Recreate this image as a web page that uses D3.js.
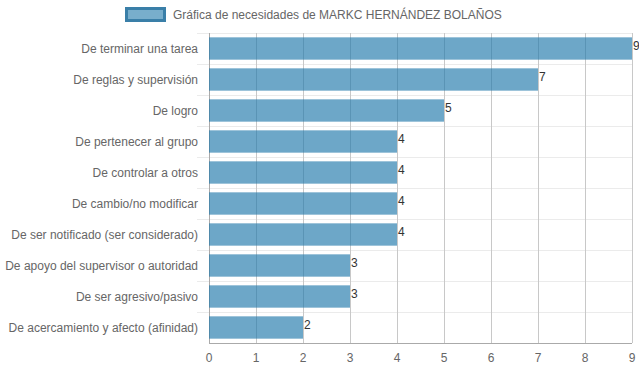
<!DOCTYPE html>
<html>
<head>
<meta charset="utf-8">
<script src="https://cdn.jsdelivr.net/npm/d3@7"></script>
<style>
  body { margin: 0; background: #fff; }
  text { font-family: "Liberation Sans", Arial, sans-serif; }
</style>
</head>
<body>
<div id="chart"></div>
<script>
// Data
const categories = [
    "De terminar una tarea",
    "De reglas y supervisión",
    "De logro",
    "De pertenecer al grupo",
    "De controlar a otros",
    "De cambio/no modificar",
    "De ser notificado (ser considerado)",
    "De apoyo del supervisor o autoridad",
    "De ser agresivo/pasivo",
    "De acercamiento y afecto (afinidad)"
];
const values = [9, 7, 5, 4, 4, 4, 4, 3, 3, 2];
const xTicks = [0, 1, 2, 3, 4, 5, 6, 7, 8, 9];
const seriesName = "Gráfica de necesidades de MARKC HERNÁNDEZ BOLAÑOS";

const W = 639, H = 372;
const margin = {top: 33, right: 7, bottom: 29, left: 209};
const width = W - margin.left - margin.right;
const height = H - margin.top - margin.bottom;

const svg = d3.select("#chart")
    .append("svg")
    .attr("width", W)
    .attr("height", H);

const g = svg.append("g")
    .attr("transform", `translate(${margin.left}, ${margin.top})`);

// Scales
const x = d3.scaleLinear()
    .domain([0, d3.max(xTicks)])
    .range([0, width]);

const y = d3.scaleBand()
    .domain(categories)
    .range([0, height])
    .paddingInner(0)
    .paddingOuter(0);

const barH = y.bandwidth() * 0.72;

// Horizontal grid lines (category boundaries)
g.selectAll(".hgrid")
    .data(categories)
    .enter()
    .append("line")
    .attr("x1", -12)
    .attr("x2", width)
    .attr("y1", d => Math.round(y(d)) + 0.5)
    .attr("y2", d => Math.round(y(d)) + 0.5)
    .attr("stroke", "#ebebeb");

// Vertical grid lines
g.selectAll(".vgrid")
    .data(xTicks)
    .enter()
    .append("line")
    .attr("x1", d => Math.round(x(d)) + 0.5)
    .attr("x2", d => Math.round(x(d)) + 0.5)
    .attr("y1", 0)
    .attr("y2", height)
    .attr("stroke", d => d === 0 ? "#aaa" : "#c8c8c8");

// Bars
g.selectAll(".bar")
    .data(values)
    .enter()
    .append("rect")
    .attr("class", "bar")
    .attr("x", x(0))
    .attr("y", (d, i) => y(categories[i]) + (y.bandwidth() - barH) / 2)
    .attr("width", d => x(d) - x(0))
    .attr("height", barH)
    .attr("fill", "rgb(30,120,170)")
    .attr("fill-opacity", 0.65);

// Value labels
g.selectAll(".val")
    .data(values)
    .enter()
    .append("text")
    .attr("x", d => x(d) + 1)
    .attr("y", (d, i) => y(categories[i]) + y.bandwidth() / 2)
    .attr("dy", "0.1em")
    .style("font-size", "12px")
    .attr("fill", "#333")
    .text(d => d);

// X axis line
g.append("line")
    .attr("x1", 0)
    .attr("x2", width)
    .attr("y1", height + 0.5)
    .attr("y2", height + 0.5)
    .attr("stroke", "#aaa");

// X tick labels
g.selectAll(".xt")
    .data(xTicks)
    .enter()
    .append("text")
    .attr("x", d => x(d))
    .attr("y", height + 19)
    .attr("text-anchor", "middle")
    .style("font-size", "12px")
    .attr("fill", "#666")
    .text(d => d);

// Y category labels
g.selectAll(".yl")
    .data(categories)
    .enter()
    .append("text")
    .attr("x", -11)
    .attr("y", d => y(d) + y.bandwidth() / 2)
    .attr("dy", "0.35em")
    .attr("text-anchor", "end")
    .style("font-size", "12px")
    .attr("fill", "#666")
    .text(d => d);

// Legend
const legend = svg.append("g");
legend.append("rect")
    .attr("x", 126.5)
    .attr("y", 8.5)
    .attr("width", 38)
    .attr("height", 12)
    .attr("fill", "rgb(30,120,170)")
    .attr("fill-opacity", 0.6)
    .attr("stroke", "#3a7fa8")
    .attr("stroke-width", 3);
legend.append("text")
    .attr("x", 173)
    .attr("y", 14.5)
    .attr("dy", "0.35em")
    .style("font-size", "12px")
    .attr("fill", "#666")
    .text(seriesName);
</script>
</body>
</html>
